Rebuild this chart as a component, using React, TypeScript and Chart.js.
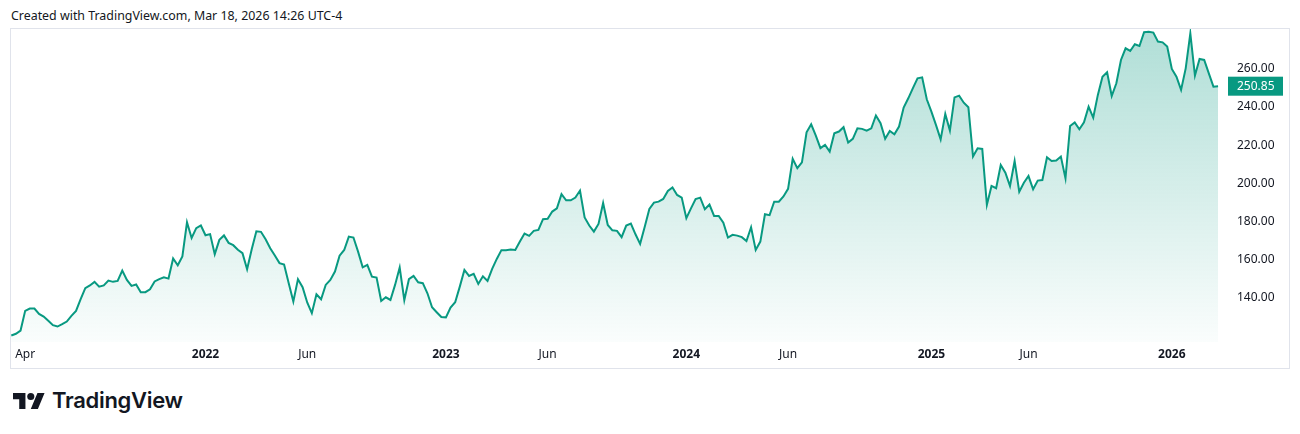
import { useEffect, useRef } from "react"
import { Chart, registerables } from "chart.js"

Chart.register(...registerables)

// weekly closes, first week = 2021-03-15
const w2021 = [
  120.3, 121.2, 122.9, 133.2, 134.4, 134.4, 131.6, 130.2, 128.0, 125.7,
  125.0, 126.2, 127.6, 130.6, 133.2, 139.3, 145.1, 146.5, 148.4, 145.9,
  146.5, 149.1, 148.4, 148.9, 154.3, 149.4, 146.3, 147.0, 143.0, 143.0,
  144.5, 148.6, 149.8, 150.8, 150.1, 160.6, 157.1, 161.7, 179.6, 171.4,
  176.5, 177.9,
]
const w2022 = [
  172.8, 173.4, 162.9, 170.4, 172.7, 168.8, 167.6, 165.2, 163.4, 155.0,
  165.5, 174.9, 174.6, 170.7, 166.0, 162.2, 158.2, 157.5, 147.7, 138.1,
  149.8, 145.6, 137.6, 132.0, 141.9, 139.3, 146.8, 149.4, 153.8, 162.1,
  165.1, 172.1, 171.6, 164.2, 156.0, 157.3, 151.1, 150.6, 138.4, 140.3,
  138.9, 146.8, 155.9, 138.8, 149.8, 151.5, 148.2, 147.7, 142.4, 135.1,
  132.5, 130.0,
]
const w2023 = [
  129.8, 134.9, 137.7, 145.9, 154.6, 151.5, 152.6, 147.3, 151.3, 148.9,
  155.2, 160.4, 165.0, 165.0, 165.3, 165.1, 169.5, 173.7, 172.5, 175.1,
  175.6, 181.2, 181.4, 185.2, 186.9, 194.3, 191.1, 191.1, 192.5, 196.2,
  182.1, 177.9, 174.7, 178.7, 189.7, 178.2, 175.4, 175.1, 171.8, 177.9,
  178.9, 173.3, 168.3, 177.3, 186.6, 189.9, 190.4, 191.8, 196.0, 197.8,
  193.9, 192.5,
]
const w2024 = [
  181.7, 186.9, 191.8, 192.5, 186.4, 188.9, 182.9, 182.9, 179.4, 171.6,
  173.0, 172.6, 171.8, 169.8, 177.0, 165.1, 169.5, 183.8, 183.3, 190.4,
  190.4, 193.1, 197.1, 212.8, 207.9, 211.0, 226.7, 230.9, 225.0, 218.4,
  220.1, 216.6, 226.2, 227.1, 229.4, 221.3, 223.3, 228.8, 228.5, 227.6,
  228.8, 235.5, 231.5, 223.3, 227.4, 225.7, 229.7, 239.7, 244.5, 249.8,
  255.0, 255.5, 244.0,
]
const w2025 = [
  237.5, 230.5, 223.0, 236.3, 227.6, 245.0, 245.9, 242.2, 239.8, 214.0,
  218.3, 218.0, 188.7, 198.6, 197.4, 209.6, 205.6, 198.6, 211.7, 195.6,
  200.3, 203.8, 196.9, 201.4, 201.7, 213.6, 211.7, 211.9, 214.0, 202.6,
  230.0, 231.9, 228.3, 231.9, 240.1, 234.4, 246.3, 255.8, 258.1, 245.7,
  252.4, 264.6, 270.7, 269.3, 272.8, 271.9, 279.1, 279.4, 278.9, 274.2,
  273.8, 271.6,
]
const w2026 = [259.9, 255.8, 248.9, 260.2, 278.5, 256.4, 265.1, 264.6, 257.6, 250.6, 250.85]

const prices = [...w2021, ...w2022, ...w2023, ...w2024, ...w2025, ...w2026]

// week index of the first bar of each labelled month
const tickWeeks = [3, 42, 64, 94, 116, 146, 168, 199, 220, 251]
const tickLabels = ["Apr", "2022", "Jun", "2023", "Jun", "2024", "Jun", "2025", "Jun", "2026"]
const yTicks = [140, 160, 180, 200, 220, 240, 260]

const GREEN = "#089981"
const FONT = "'Noto Sans', sans-serif"

const noPadding = (s: any) => {
  s.paddingTop = 0
  s.paddingBottom = 0
  s.paddingLeft = 0
  s.paddingRight = 0
}

const priceTag = {
  id: "priceTag",
  afterDraw(chart: any) {
    const { ctx, chartArea, scales } = chart
    const last = prices[prices.length - 1]
    const y = scales.y.getPixelForValue(last)
    ctx.save()
    ctx.fillStyle = GREEN
    ctx.fillRect(chartArea.right + 3, y - 9.5, 55, 19)
    ctx.fillStyle = "#ffffff"
    ctx.font = `12px ${FONT}`
    ctx.textBaseline = "middle"
    ctx.textAlign = "left"
    ctx.fillText(last.toFixed(2), chartArea.right + 12, y + 0.5)
    ctx.restore()
  },
}

const PriceChart = () => {
  const chartRef = useRef<HTMLCanvasElement>(null)

  useEffect(() => {
    document.body.style.margin = "0"
    if (!chartRef.current) return
    const myChart = new Chart(chartRef.current, {
      type: "line",
      data: {
        datasets: [
          {
            data: prices.map((p, i) => ({ x: i, y: p })),
            borderColor: GREEN,
            borderWidth: 2,
            pointRadius: 0,
            tension: 0,
            fill: "start",
            backgroundColor: (c: any) => {
              const area = c.chart.chartArea
              if (!area) return "rgba(8,153,129,0.15)"
              const g = c.chart.ctx.createLinearGradient(0, area.top, 0, area.bottom)
              g.addColorStop(0, "rgba(8,153,129,0.32)")
              g.addColorStop(1, "rgba(8,153,129,0.02)")
              return g
            },
          },
        ],
      },
      options: {
        animation: false,
        responsive: true,
        maintainAspectRatio: false,
        layout: { padding: 0 },
        plugins: { legend: { display: false }, tooltip: { enabled: false } },
        scales: {
          x: {
            type: "linear",
            min: -0.065,
            max: 262.5,
            grid: { display: false, drawTicks: false },
            border: { display: false },
            afterBuildTicks: (s: any) => {
              s.ticks = tickWeeks.map((v) => ({ value: v }))
            },
            afterFit: (s: any) => {
              s.height = 26
              noPadding(s)
            },
            ticks: {
              autoSkip: false,
              maxRotation: 0,
              padding: 5,
              color: "#131722",
              font: (c: any) => ({
                family: FONT,
                size: 12,
                weight: /^\d/.test(tickLabels[c.index] || "") ? "bold" : "normal",
              }),
              callback: (_v: any, i: number) => tickLabels[i],
            },
          },
          y: {
            type: "linear",
            position: "right",
            min: 116.9,
            max: 280.8,
            grid: { display: false, drawTicks: false },
            border: { display: false },
            afterBuildTicks: (s: any) => {
              s.ticks = yTicks.map((v) => ({ value: v }))
            },
            afterFit: (s: any) => {
              s.width = 64
              noPadding(s)
            },
            ticks: {
              padding: 12,
              color: "#131722",
              font: { family: FONT, size: 12 },
              callback: (v: any) => Number(v).toFixed(2),
            },
          },
        },
      } as any,
      plugins: [priceTag],
    })

    return () => {
      myChart.destroy()
    }
  }, [])

  return <canvas ref={chartRef} />
}

export default function App() {
  return (
    <div style={{ position: "relative", width: 1300, height: 434, background: "#fff", fontFamily: FONT }}>
      <div
        style={{
          position: "absolute",
          left: 11,
          top: 8,
          fontSize: 12.4,
          lineHeight: "16px",
          color: "#131722",
          whiteSpace: "nowrap",
        }}
      >
        Created with TradingView.com, Mar 18, 2026 14:26 UTC-4
      </div>
      <div
        style={{
          position: "absolute",
          left: 10,
          top: 28,
          width: 1280,
          height: 341,
          border: "1px solid #e0e3eb",
          boxSizing: "border-box",
        }}
      >
        <div style={{ position: "relative", width: 1278, height: 339 }}>
          <PriceChart />
        </div>
      </div>
      <svg
        style={{ position: "absolute", left: 13, top: 393 }}
        width={32}
        height={16}
        viewBox="0 4 36 18"
      >
        <path d="M14 22H7V11H0V4h14v18zM28 22h-8l7.5-18h8L28 22z" fill="#131722" />
        <circle cx={20} cy={8} r={4} fill="#131722" />
      </svg>
      <div
        style={{
          position: "absolute",
          left: 52,
          top: 386,
          fontFamily: "Inter, sans-serif",
          fontWeight: 600,
          fontSize: 22,
          lineHeight: "28px",
          color: "#131722",
          letterSpacing: -0.3,
        }}
      >
        TradingView
      </div>
    </div>
  )
}
